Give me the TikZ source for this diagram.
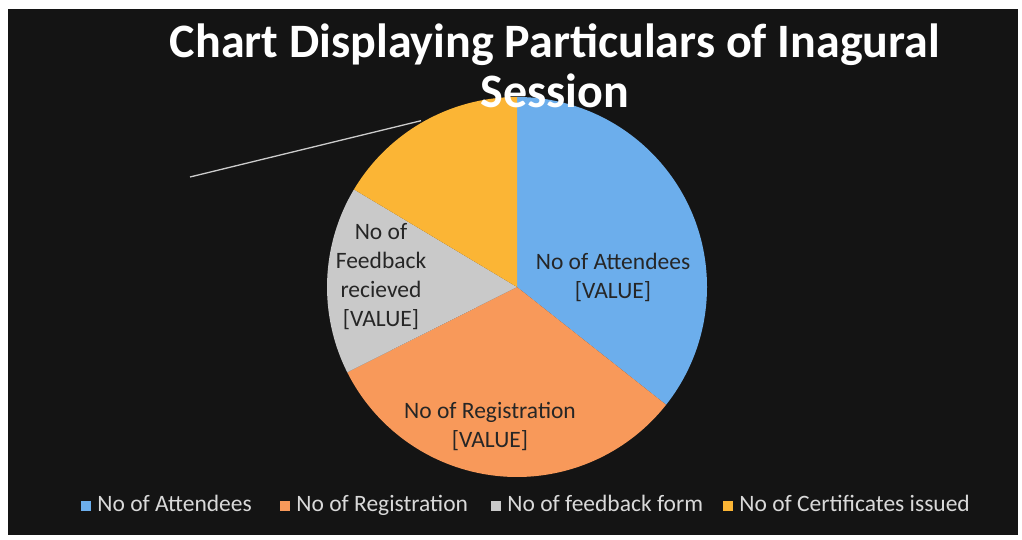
\documentclass[tikz,border=0pt]{standalone}
\usepackage{fontspec}
\setmainfont{Carlito}
\usepackage{tikz}
\usetikzlibrary{positioning}
\usetikzlibrary{calc}

\definecolor{bgblack}{HTML}{141414}
\definecolor{attblue}{HTML}{6CAEEC}
\definecolor{regorange}{HTML}{F8995A}
\definecolor{fbgray}{HTML}{C9C9C9}
\definecolor{certyellow}{HTML}{FBB535}

\begin{document}
\begin{tikzpicture}[x=1pt, y=1pt,
        titlenode/.style={align=center, text=white, font=\bfseries\fontsize{48}{50}\selectfont, inner sep=0pt},
        slicelabel/.style={align=center, text=black!85, font=\fontsize{23.5}{29}\selectfont, inner sep=0pt},
        legendbox/.style={rectangle, minimum size=10pt, inner sep=0pt},
        legendtext/.style={text=white!85!black, font=\fontsize{23.5}{25}\selectfont, inner sep=0pt},
        leader/.style={draw=white!80!black, line width=1.3pt},
        ]
        \useasboundingbox (0,0) rectangle (1022,539);
        \fill[white] (0,0) rectangle (1022,539);
        \fill[bgblack] (8,4) rectangle (1018,530);

        %Pie
        \coordinate (c) at (517,252);
        \fill[attblue]    (c) -- ++(90:190)    arc[start angle=90,    end angle=-38.3,  radius=190pt] -- cycle;
        \fill[regorange]  (c) -- ++(-38.3:190) arc[start angle=-38.3, end angle=-153.3, radius=190pt] -- cycle;
        \fill[fbgray]     (c) -- ++(206.7:190) arc[start angle=206.7, end angle=149.1,  radius=190pt] -- cycle;
        \fill[certyellow] (c) -- ++(149.1:190) arc[start angle=149.1, end angle=90,     radius=190pt] -- cycle;

        %Nodes
        \node[titlenode]  (title) at (555,473) {Chart Displaying Particulars of Inagural\\Session};
        \node[slicelabel] (att)   at (613,262) {No of Attendees\\{[VALUE]}};
        \node[slicelabel] (reg)   at (490,113) {No of Registration\\{[VALUE]}};
        \node[slicelabel] (fb)    at (381,262) {No of\\Feedback\\recieved\\{[VALUE]}};

        \node[legendbox, fill=attblue]    (k1) at (86,33)  {};
        \node[legendtext] (l1) [right=6pt of k1.south east, anchor=base west] {No of Attendees};
        \node[legendbox, fill=regorange]  (k2) at (285,33) {};
        \node[legendtext] (l2) [right=6pt of k2.south east, anchor=base west] {No of Registration};
        \node[legendbox, fill=fbgray]     (k3) at (496,33) {};
        \node[legendtext] (l3) [right=6pt of k3.south east, anchor=base west] {No of feedback form};
        \node[legendbox, fill=certyellow] (k4) at (728,33) {};
        \node[legendtext] (l4) [right=6pt of k4.south east, anchor=base west] {No of Certificates issued};

        %Lines
        \coordinate (lead) at (190,362);
        \coordinate (yedge) at ($(c)+(120:192)$);
        \path[leader] (lead) -- (yedge);
    \end{tikzpicture}
\end{document}
